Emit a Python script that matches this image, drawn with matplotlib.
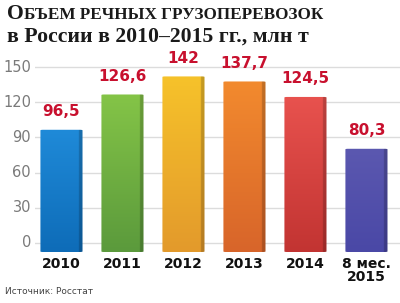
import numpy as np
import matplotlib.pyplot as plt
from matplotlib.patches import FancyBboxPatch
from matplotlib.colors import to_rgb

# Данные
categories = ['2010', '2011', '2012', '2013', '2014', '8 мес.\n2015']
values = [96.5, 126.6, 142, 137.7, 124.5, 80.3]
value_labels = ['96,5', '126,6', '142', '137,7', '124,5', '80,3']
yticks = [0, 30, 60, 90, 120, 150]

# цвета: верх / низ
top_colors = ['#1f8ad8', '#84c447', '#f6c22a', '#f28a2e', '#e8524e', '#5b58b0']
bot_colors = ['#0e6cb8', '#5b9a3c', '#e39a2c', '#d8652a', '#c23432', '#4a48a6']

fig = plt.figure(figsize=(4, 3.03), dpi=100)
ax = fig.add_axes([35 / 400, 1 - 252 / 303, 365 / 400, 192 / 303])

ymin, ymax = -7.7, 156

for y in yticks:
    ax.axhline(y, color='#dcdcdc', lw=1, zorder=0)

w = 0.69
for i, v in enumerate(values):
    x0 = i - w / 2
    t = np.array(to_rgb(top_colors[i]))
    b = np.array(to_rgb(bot_colors[i]))
    fr = np.linspace(0, 1, 64)[:, None, None]
    img = t * (1 - fr) + b * fr
    img = np.repeat(img, 32, axis=1)
    img[:, -3:, :] *= 0.8
    im = ax.imshow(img, extent=(x0, x0 + w, ymin, v), aspect='auto', zorder=2,
                   interpolation='bilinear')
    patch = FancyBboxPatch((x0, ymin), w, v - ymin,
                           boxstyle='round,pad=0,rounding_size=0.04',
                           mutation_aspect=12, fc='none', ec='none',
                           transform=ax.transData)
    ax.add_patch(patch)
    im.set_clip_path(patch)
    ax.text(i, v + 9, value_labels[i], ha='center', va='bottom',
            color='#c8102e', fontsize=11, fontweight='bold',
            family='DejaVu Sans')

ax.set_aspect('auto')
ax.set_ylim(ymin, ymax)
ax.set_xlim(-0.434, 5.55)
ax.set_yticks([])
ax.set_xticks([])
for s in ax.spines.values():
    s.set_visible(False)

for y in yticks:
    ax.text(-0.5, y, str(y), ha='right', va='center', color='#7a7a7a',
            fontsize=10.5, transform=ax.transData, clip_on=False)

for i, c in enumerate(categories):
    ax.text(i, ymin - 4, c, ha='center', va='top', color='#111111',
            fontsize=10, fontweight='bold', linespacing=0.95, clip_on=False)

# Заголовок
tfont = dict(family='Liberation Serif', fontweight='bold', color='#1a1a1a')
t1 = fig.text(7 / 400, 1 - 19 / 303, 'О', fontsize=15.7, va='baseline', **tfont)
fig.canvas.draw()
bb = t1.get_window_extent()
fig.text(bb.x1 / 400, 1 - 19 / 303, 'БЪЕМ РЕЧНЫХ ГРУЗОПЕРЕВОЗОК',
         fontsize=12.3, va='baseline', **tfont)
fig.text(7 / 400, 1 - 42 / 303, 'в России в 2010–2015 гг., млн т',
         fontsize=15.7, va='baseline', **tfont)

fig.text(5 / 400, 1 - 294 / 303, 'Источник: Росстат', fontsize=6.5,
         color='#444444', family='Liberation Sans Narrow')

fig.savefig('out.png', dpi=100)
